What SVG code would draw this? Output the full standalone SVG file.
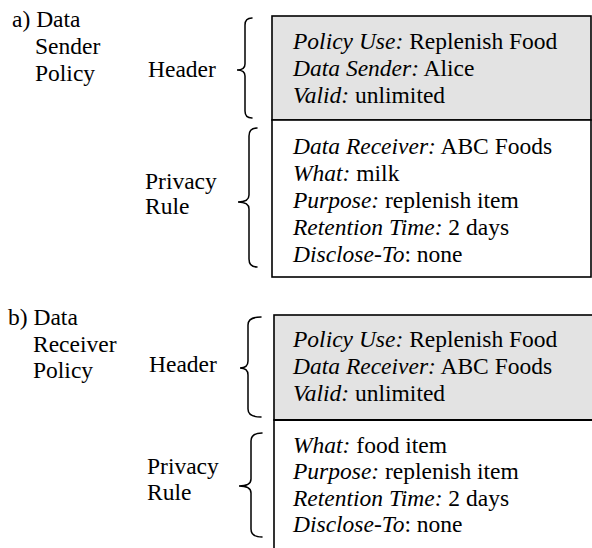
<svg xmlns="http://www.w3.org/2000/svg" width="592" height="548" viewBox="0 0 592 548">
  <style>
    text { font-family: "Liberation Serif", "Times New Roman", "DejaVu Serif", serif; font-size: 23.5px; fill: #000; }
    .k { font-style: italic; }
    .hdr { fill: #e3e3e3; stroke: #000; stroke-width: 1.6; }
    .rule { fill: #fff; stroke: #000; stroke-width: 1.6; }
    .brace { fill: none; stroke: #000; stroke-width: 1.5; stroke-linecap: round; }
  </style>

  <!-- a) Data Sender Policy -->
  <g id="sender-title">
    <text x="12" y="27">a) Data</text>
    <text x="35" y="54">Sender</text>
    <text x="35" y="81">Policy</text>
  </g>
  <g id="sender-header-label">
    <text x="148" y="77">Header</text>
  </g>
  <g id="sender-rule-label">
    <text x="145" y="189">Privacy</text>
    <text x="145" y="214">Rule</text>
  </g>
  <g id="sender-header">
    <rect class="hdr" x="272" y="16" width="319" height="104"/>
    <text x="293" y="49"><tspan class="k">Policy Use:</tspan> Replenish Food</text>
    <text x="293" y="76"><tspan class="k">Data Sender:</tspan> Alice</text>
    <text x="293" y="103"><tspan class="k">Valid:</tspan> unlimited</text>
  </g>
  <g id="sender-rule">
    <rect class="rule" x="272" y="120" width="319" height="157"/>
    <text x="293" y="154"><tspan class="k">Data Receiver:</tspan> ABC Foods</text>
    <text x="293" y="181"><tspan class="k">What:</tspan> milk</text>
    <text x="293" y="208"><tspan class="k">Purpose:</tspan> replenish item</text>
    <text x="293" y="235"><tspan class="k">Retention Time:</tspan> 2 days</text>
    <text x="293" y="262"><tspan class="k">Disclose-To</tspan>: none</text>
  </g>

  <!-- b) Data Receiver Policy -->
  <g id="receiver-title">
    <text x="8" y="325">b) Data</text>
    <text x="33" y="352">Receiver</text>
    <text x="33" y="378">Policy</text>
  </g>
  <g id="receiver-header-label">
    <text x="149" y="372">Header</text>
  </g>
  <g id="receiver-rule-label">
    <text x="147" y="474">Privacy</text>
    <text x="147" y="500">Rule</text>
  </g>
  <g id="receiver-header">
    <rect class="hdr" x="274" y="315" width="330" height="105"/>
    <text x="293" y="347"><tspan class="k">Policy Use:</tspan> Replenish Food</text>
    <text x="293" y="374"><tspan class="k">Data Receiver:</tspan> ABC Foods</text>
    <text x="293" y="401"><tspan class="k">Valid:</tspan> unlimited</text>
  </g>
  <g id="receiver-rule">
    <rect class="rule" x="274" y="420" width="330" height="140"/>
    <line x1="274" y1="420" x2="592" y2="420" stroke="#000" stroke-width="2.2"/>
    <text x="293" y="453"><tspan class="k">What:</tspan> food item</text>
    <text x="293" y="479"><tspan class="k">Purpose:</tspan> replenish item</text>
    <text x="293" y="506"><tspan class="k">Retention Time:</tspan> 2 days</text>
    <text x="293" y="532"><tspan class="k">Disclose-To</tspan>: none</text>
  </g>

  <!-- curly braces linking labels to sections -->
  <g id="connectors">
    <path class="brace" d="M252,18 Q245,18 245,25 L245,64 Q245,70 237,70 Q245,70 245,76 L245,111 Q245,118 252,118"/>
    <path class="brace" d="M257,128 Q249,128 249,136 L249,195 Q249,202 238,202 Q249,202 249,209 L249,259 Q249,267 257,267"/>
    <path class="brace" d="M261,317 Q248,317 248,325 L248,361 Q248,368 240,368 Q248,368 248,375 L248,409 Q248,417 261,417"/>
    <path class="brace" d="M262,433 Q251,433 251,441 L251,479 Q251,486 239,486 Q251,486 251,493 L251,529 Q251,537 262,537"/>
  </g>
</svg>
